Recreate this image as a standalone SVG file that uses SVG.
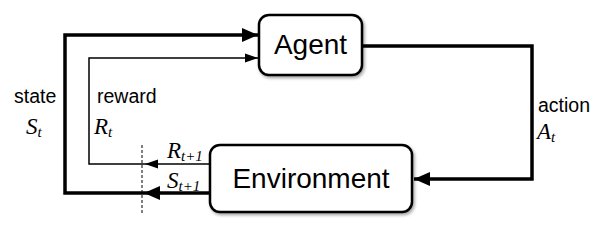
<svg xmlns="http://www.w3.org/2000/svg" width="606" height="239" viewBox="0 0 606 239">
  <style>
    .box { fill: #ffffff; stroke: #000000; stroke-width: 2.5; filter: url(#shadow); }
    .title { font-family: "Liberation Sans", Arial, sans-serif; font-size: 28px; fill: #000; }
    .lbl { font-family: "Liberation Sans", Arial, sans-serif; font-size: 19.5px; fill: #000; }
    .math { font-family: "Liberation Serif", "Times New Roman", serif; font-style: italic; font-size: 23px; fill: #000; }
    .sub { font-size: 15px; }
    .thick { fill: none; stroke: #000; stroke-width: 3.5; }
    .thin { fill: none; stroke: #000; stroke-width: 1.5; }
    .dash { fill: none; stroke: #000; stroke-width: 1; stroke-dasharray: 3 2; }
  </style>
  <defs>
    <filter id="shadow" x="-10%" y="-10%" width="130%" height="140%">
      <feDropShadow dx="1.5" dy="2" stdDeviation="1.5" flood-color="#000" flood-opacity="0.35"/>
    </filter>
    <marker id="arrowThick" markerUnits="userSpaceOnUse" markerWidth="18" markerHeight="14" refX="16" refY="7" orient="auto">
      <path d="M0,0 L16,7 L0,14 z" fill="#000"/>
    </marker>
    <marker id="arrowThin" markerUnits="userSpaceOnUse" markerWidth="14" markerHeight="10" refX="13" refY="5" orient="auto">
      <path d="M0,0.5 L13,5 L0,9.5 z" fill="#000"/>
    </marker>
  </defs>

  <g id="connectors">
    <!-- state: Environment -> Agent (thick) -->
    <path class="thick" d="M210,193 H144" marker-end="url(#arrowThick)"/>
    <path class="thick" d="M144,193 H65 V35 H258" marker-end="url(#arrowThick)"/>
    <!-- reward: Environment -> Agent (thin) -->
    <path class="thin" d="M210,164 H145" marker-end="url(#arrowThin)"/>
    <path class="thin" d="M145,164 H89 V58 H258" marker-end="url(#arrowThin)"/>
    <!-- action: Agent -> Environment -->
    <path class="thick" d="M362,46 H532 V179 H414" marker-end="url(#arrowThick)"/>
    <!-- dashed time boundary -->
    <line class="dash" x1="142" y1="145" x2="142" y2="213"/>
  </g>

  <g id="agent">
    <rect class="box" x="259" y="15" width="103" height="60" rx="10" ry="10"/>
    <text class="title" x="310.5" y="54" text-anchor="middle">Agent</text>
  </g>

  <g id="environment">
    <rect class="box" x="210" y="145" width="202" height="67" rx="10" ry="10"/>
    <text class="title" x="311" y="188" text-anchor="middle">Environment</text>
  </g>

  <g id="labels">
    <text class="lbl" x="14" y="103">state</text>
    <text class="math" x="26" y="134">S<tspan class="sub" dy="3">t</tspan></text>
    <text class="lbl" x="97" y="103">reward</text>
    <text class="math" x="94" y="134">R<tspan class="sub" dy="3">t</tspan></text>
    <text class="lbl" x="538" y="112">action</text>
    <text class="math" x="537" y="139">A<tspan class="sub" dy="3">t</tspan></text>
    <text class="math" x="167" y="158">R<tspan class="sub" dy="3">t+1</tspan></text>
    <text class="math" x="167" y="188">S<tspan class="sub" dy="3">t+1</tspan></text>
  </g>
</svg>
